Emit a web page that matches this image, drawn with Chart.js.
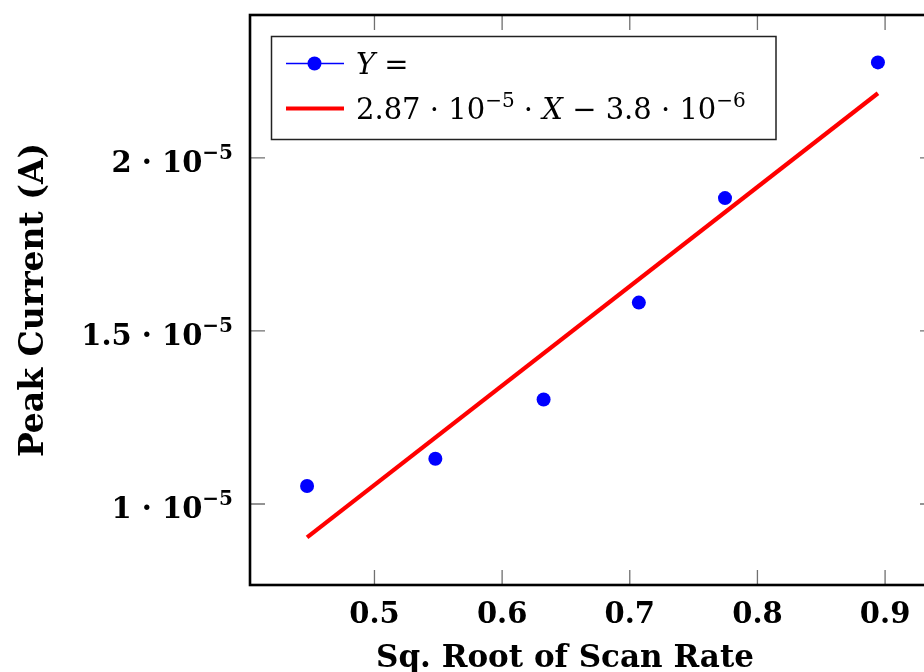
<!DOCTYPE html>
<html>
<head>
<meta charset="utf-8">
<script src="https://cdn.jsdelivr.net/npm/chart.js@4.4.1/dist/chart.umd.min.js"></script>
<style>
  html, body { margin: 0; padding: 0; background: #fff; overflow: hidden; }
  #wrap { position: absolute; left: 0; top: 0; width: 952px; height: 672px; }
</style>
</head>
<body>
<div id="wrap"><canvas id="peakChart"></canvas></div>
<script>
// measured peaks vs square root of scan rate
const sqrtScanRate = [0.4472, 0.5477, 0.6325, 0.7071, 0.7746, 0.8944];
const peakCurrent = [1.052e-5, 1.131e-5, 1.302e-5, 1.582e-5, 1.884e-5, 2.276e-5];

// linear fit, as printed in the legend
const fitSlope = 2.87e-5;
const fitIntercept = -3.8e-6;
const fitRange = [0.4472, 0.8944];

const xTicks = [0.5, 0.6, 0.7, 0.8, 0.9];
const yTicks = [1e-5, 1.5e-5, 2e-5];
const xLimits = [0.4025, 0.9391];
const yLimits = [0.766e-5, 2.413e-5];

const seriesLabels = ["Y =", "2.87 · 10^{−5} · X − 3.8 · 10^{−6}"];
const xTitle = "Sq. Root of Scan Rate";
const yTitle = "Peak Current (A)";

const SERIF = '"DejaVu Serif", serif';

// split "a^{b}c" into runs, with X / Y set in italics
function parseRich(str) {
  const runs = [];
  str.split(/(\^\{[^}]*\})/).forEach(seg => {
    if (!seg) return;
    if (seg.startsWith("^{")) {
      runs.push({ text: seg.slice(2, -1), sup: true });
    } else {
      seg.split(/([XY])/).forEach(s => {
        if (s) runs.push({ text: s, italic: /^[XY]$/.test(s) });
      });
    }
  });
  return runs;
}

function setRunFont(ctx, r, base) {
  const size = r.sup ? base.supSize : base.size;
  ctx.font = (r.italic ? "italic " : "") + (base.weight || "") + " " + size + "px " + base.family;
}

function drawRuns(ctx, runs, x, y, base) {
  runs.forEach(r => {
    setRunFont(ctx, r, base);
    ctx.fillText(r.text, x, r.sup ? y - base.rise : y);
    x += ctx.measureText(r.text).width;
  });
  return x;
}

function runsWidth(ctx, runs, base) {
  let w = 0;
  runs.forEach(r => {
    setRunFont(ctx, r, base);
    w += ctx.measureText(r.text).width;
  });
  return w;
}

const framePlugin = {
  id: "frame",
  beforeDatasetsDraw(chart) {
    const { ctx, chartArea: a, scales } = chart;
    ctx.save();
    // inward tick marks on all four sides
    ctx.strokeStyle = "#707070";
    ctx.lineWidth = 1.3;
    ctx.beginPath();
    xTicks.forEach(v => {
      const px = scales.x.getPixelForValue(v);
      ctx.moveTo(px, a.bottom); ctx.lineTo(px, a.bottom - 15);
      ctx.moveTo(px, a.top); ctx.lineTo(px, a.top + 15);
    });
    yTicks.forEach(v => {
      const py = scales.y.getPixelForValue(v);
      ctx.moveTo(a.left, py); ctx.lineTo(a.left + 15, py);
      ctx.moveTo(a.right, py); ctx.lineTo(a.right - 15, py);
    });
    ctx.stroke();
    ctx.restore();
  },
  afterDraw(chart) {
    const { ctx, chartArea: a, scales } = chart;
    ctx.save();
    ctx.strokeStyle = "#000";
    ctx.lineWidth = 2.6;
    ctx.strokeRect(a.left, a.top, a.right - a.left, a.bottom - a.top);

    // y tick labels as m · 10^-5
    ctx.fillStyle = "#000";
    ctx.textBaseline = "alphabetic";
    ctx.textAlign = "left";
    const tickFont = { family: SERIF, weight: "bold", size: 29, supSize: 20, rise: 13 };
    yTicks.forEach(v => {
      const m = Math.round(v / 1e-6) / 10;
      const runs = [{ text: m + " · 10" }, { text: "−5", sup: true }];
      const w = runsWidth(ctx, runs, tickFont);
      const py = scales.y.getPixelForValue(v);
      drawRuns(ctx, runs, a.left - 17 - w, py + 14, tickFont);
    });

    // axis titles
    ctx.textAlign = "center";
    ctx.font = "bold 31px " + SERIF;
    ctx.fillText(xTitle, 565, 667);
    ctx.save();
    ctx.translate(43, (a.top + a.bottom) / 2);
    ctx.rotate(-Math.PI / 2);
    ctx.font = "bold 33px " + SERIF;
    ctx.fillText(yTitle, 0, 0);
    ctx.restore();

    // legend box
    ctx.textAlign = "left";
    const lx = 271.5, ly = 36.5, lw = 504.5, lh = 103;
    ctx.fillStyle = "#fff";
    ctx.fillRect(lx, ly, lw, lh);
    ctx.strokeStyle = "#222";
    ctx.lineWidth = 1.5;
    ctx.strokeRect(lx, ly, lw, lh);

    const legFont = { family: SERIF, size: 29, supSize: 20, rise: 12 };
    const rows = [63.5, 108.5];
    chart.data.datasets.forEach((ds, i) => {
      const ry = rows[i];
      ctx.strokeStyle = ds.borderColor;
      ctx.lineWidth = i === 0 ? 1.3 : 4.2;
      ctx.beginPath();
      ctx.moveTo(286, ry); ctx.lineTo(344, ry);
      ctx.stroke();
      if (i === 0) {
        ctx.fillStyle = ds.backgroundColor;
        ctx.beginPath();
        ctx.arc(314.5, ry, 7, 0, Math.PI * 2);
        ctx.fill();
      }
      ctx.fillStyle = "#000";
      drawRuns(ctx, parseRich(ds.label), 356, ry + 10, legFont);
    });
    ctx.restore();
  }
};

const ctx = document.getElementById("peakChart").getContext("2d");

new Chart(ctx, {
  type: "scatter",
  data: {
    datasets: [
      {
        label: seriesLabels[0],
        data: sqrtScanRate.map((x, i) => ({ x: x, y: peakCurrent[i] })),
        backgroundColor: "#0000ff",
        borderColor: "#0000ff",
        borderWidth: 0,
        pointRadius: 7,
        order: 2
      },
      {
        type: "line",
        label: seriesLabels[1],
        data: fitRange.map(x => ({ x: x, y: fitSlope * x + fitIntercept })),
        borderColor: "#ff0000",
        borderWidth: 4.2,
        pointRadius: 0,
        fill: false,
        order: 1
      }
    ]
  },
  options: {
    responsive: true,
    maintainAspectRatio: false,
    animation: false,
    layout: { padding: { top: 15, right: 17, left: 0, bottom: 0 } },
    plugins: {
      legend: { display: false },
      tooltip: { enabled: false }
    },
    scales: {
      x: {
        type: "linear",
        min: xLimits[0],
        max: xLimits[1],
        afterBuildTicks: s => { s.ticks = xTicks.map(v => ({ value: v })); },
        afterFit: s => { s.height = 87; },
        grid: { display: false, drawTicks: false },
        border: { display: false },
        ticks: {
          color: "#000",
          padding: 13,
          maxRotation: 0,
          autoSkip: false,
          font: { family: SERIF, weight: "bold", size: 29 },
          callback: v => v.toFixed(1)
        }
      },
      y: {
        type: "linear",
        min: yLimits[0],
        max: yLimits[1],
        afterBuildTicks: s => { s.ticks = yTicks.map(v => ({ value: v })); },
        afterFit: s => { s.width = 250; },
        grid: { display: false, drawTicks: false },
        border: { display: false },
        ticks: { display: false }
      }
    }
  },
  plugins: [framePlugin]
});
</script>
</body>
</html>
